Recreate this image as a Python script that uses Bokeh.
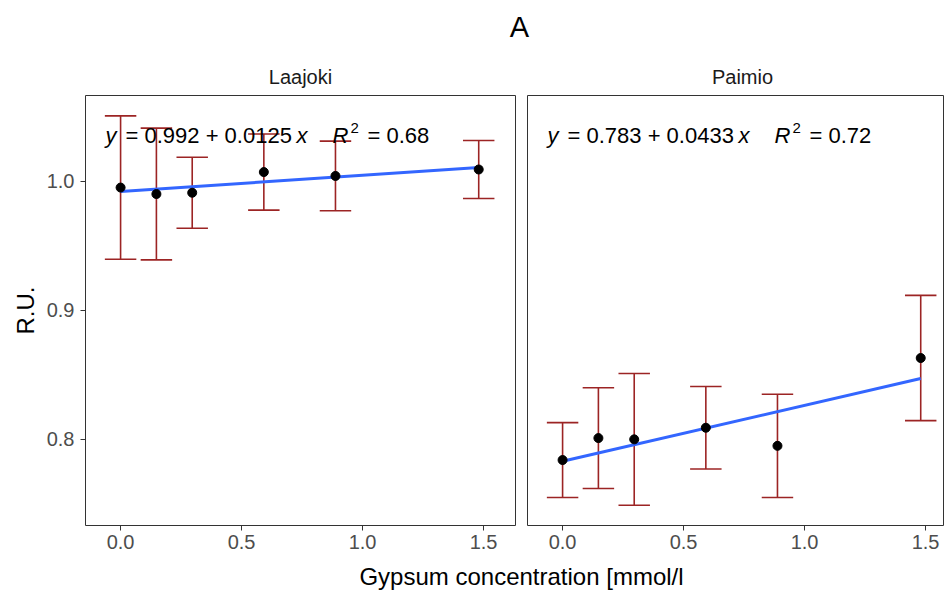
from bokeh.plotting import figure
from bokeh.layouts import column, row
from bokeh.models import Range1d, Label, FixedTicker, PrintfTickFormatter, ColumnDataSource
from bokeh.embed import file_html
from bokeh.resources import INLINE

# ---------------- data ----------------
title_text = "A"
sites = ["Laajoki", "Paimio"]
concentration = [0.0, 0.148, 0.296, 0.592, 0.888, 1.48]
laajoki_mean = [0.995, 0.990, 0.991, 1.007, 1.004, 1.009]
laajoki_sd = [0.0555, 0.051, 0.0275, 0.0295, 0.027, 0.0225]
paimio_mean = [0.784, 0.801, 0.800, 0.809, 0.795, 0.863]
paimio_sd = [0.029, 0.039, 0.051, 0.032, 0.040, 0.0485]
fit_intercept = [0.992, 0.783]
fit_slope = [0.0125, 0.0433]
fit_r2 = [0.68, 0.72]
x_ticks = [0.0, 0.5, 1.0, 1.5]
y_ticks = [0.8, 0.9, 1.0]
x_label = "Gypsum concentration [mmol/l"
y_label = "R.U."

# ---------------- layout / style ----------------
FONT = "Liberation Sans"
W, H = 944, 590
HEAD_H, FOOT_H = 90, 30
ROW_H = H - HEAD_H - FOOT_H
FRAME_TOP, FRAME_BOTTOM = 5, 35
FRAME_H = ROW_H - FRAME_TOP - FRAME_BOTTOM
LEFT_BORDER, GAP = 85, 6
PANEL_W = 430
LEFT_W = LEFT_BORDER + PANEL_W + GAP
RIGHT_W = W - LEFT_W
RIGHT_FRAME_W = RIGHT_W - GAP - 1

X_START, X_END = -0.145, 1.632
Y_START, Y_END = 0.7333, 1.0663
PX_X = PANEL_W / (X_END - X_START)
PX_Y = FRAME_H / (Y_END - Y_START)

EB_COLOR = "#9C2424"
FIT_COLOR = "#3366FF"
BORDER_COLOR = "#333333"
TICK_LABEL_COLOR = "#4D4D4D"
CAP_HALF = 0.065

y_range = Range1d(Y_START, Y_END)


def style_axis(ax, ticks):
    ax.ticker = FixedTicker(ticks=ticks)
    ax.formatter = PrintfTickFormatter(format="%.1f")
    ax.axis_line_color = None
    ax.major_tick_line_color = BORDER_COLOR
    ax.major_tick_in = 0
    ax.major_tick_out = 5
    ax.minor_tick_line_color = None
    ax.major_label_text_font = FONT
    ax.major_label_text_font_size = "20px"
    ax.major_label_text_color = TICK_LABEL_COLOR


def make_panel(idx, mean, sd, width, border_left, border_right, x_end, show_y):
    p = figure(width=width, height=ROW_H, x_range=Range1d(X_START, x_end), y_range=y_range,
               output_backend="svg", toolbar_location=None, title=None,
               min_border_left=border_left, min_border_right=border_right,
               min_border_top=FRAME_TOP, min_border_bottom=FRAME_BOTTOM,
               y_axis_location="left" if show_y else None)
    p.grid.visible = False
    p.outline_line_color = BORDER_COLOR
    p.outline_line_width = 1
    p.background_fill_color = "white"
    p.border_fill_color = "white"
    style_axis(p.xaxis[0], x_ticks)
    p.xaxis[0].major_label_standoff = 4
    if show_y:
        style_axis(p.yaxis[0], y_ticks)
        p.yaxis[0].major_label_standoff = 6
        p.yaxis[0].axis_label = y_label
        p.yaxis[0].axis_label_text_font = FONT
        p.yaxis[0].axis_label_text_font_size = "24px"
        p.yaxis[0].axis_label_text_font_style = "normal"
        p.yaxis[0].axis_label_text_color = "black"
        p.yaxis[0].axis_label_standoff = 5

    lower = [m - s for m, s in zip(mean, sd)]
    upper = [m + s for m, s in zip(mean, sd)]
    src = ColumnDataSource(dict(
        x=concentration, mean=mean, lower=lower, upper=upper,
        cl=[c - CAP_HALF for c in concentration], cr=[c + CAP_HALF for c in concentration]))
    p.segment(x0="x", y0="lower", x1="x", y1="upper", source=src, line_color=EB_COLOR, line_width=1.6)
    p.segment(x0="cl", y0="upper", x1="cr", y1="upper", source=src, line_color=EB_COLOR, line_width=1.6)
    p.segment(x0="cl", y0="lower", x1="cr", y1="lower", source=src, line_color=EB_COLOR, line_width=1.6)

    a, b, r2 = fit_intercept[idx], fit_slope[idx], fit_r2[idx]
    fx = [min(concentration), max(concentration)]
    fy = [a + b * xx for xx in fx]
    p.line(fx, fy, line_color=FIT_COLOR, line_width=3)
    p.scatter("x", "mean", source=src, marker="circle", size=9, color="black")

    # regression equation (pieces for italic/superscript)
    y_mid = Y_END - 40 / PX_Y
    y_sup = Y_END - 32 / PX_Y
    pieces = [
        ("y", 0, "italic", "22px", y_mid),
        (f"= {a:.3f} + {b:.4f}", 20, "normal", "22px", y_mid),
        ("x", 191, "italic", "22px", y_mid),
        ("R", 227, "italic", "22px", y_mid),
        ("2", 245, "normal", "15px", y_sup),
        (f"= {r2:.2f}", 262, "normal", "22px", y_mid),
    ]
    for txt, off, style, size, yy in pieces:
        p.add_layout(Label(x=X_START, y=yy, x_offset=20 + off, text=txt,
                           text_font=FONT, text_font_size=size, text_font_style=style,
                           text_color="black", text_align="left", text_baseline="middle"))
    return p


left = make_panel(0, laajoki_mean, laajoki_sd, LEFT_W, LEFT_BORDER, GAP, X_END, True)
right_end = X_START + RIGHT_FRAME_W / PX_X
right = make_panel(1, paimio_mean, paimio_sd, RIGHT_W, GAP, 1, right_end, False)

# header: title and facet strip labels
head = figure(width=W, height=HEAD_H, x_range=Range1d(0, W), y_range=Range1d(0, HEAD_H),
              output_backend="svg", toolbar_location=None, title=None,
              x_axis_location=None, y_axis_location=None, min_border=0)
head.grid.visible = False
head.outline_line_color = None
plot_left = LEFT_BORDER
plot_right = LEFT_W + GAP + PANEL_W
head.add_layout(Label(x=(plot_left + plot_right) / 2 - 2, y=HEAD_H - 26, text=title_text,
                      text_font=FONT, text_font_size="29px", text_color="black",
                      text_align="center", text_baseline="middle"))
strip_centers = [LEFT_BORDER + PANEL_W / 2, LEFT_W + GAP + PANEL_W / 2]
for name, cx in zip(sites, strip_centers):
    head.add_layout(Label(x=cx, y=HEAD_H - 76, text=name, text_font=FONT, text_font_size="20px",
                          text_color="#1A1A1A", text_align="center", text_baseline="middle"))

# footer: x-axis title spanning both panels
foot = figure(width=W, height=FOOT_H, x_range=Range1d(0, W), y_range=Range1d(0, FOOT_H),
              output_backend="svg", toolbar_location=None, title=None,
              x_axis_location=None, y_axis_location=None, min_border=0)
foot.grid.visible = False
foot.outline_line_color = None
foot.add_layout(Label(x=(plot_left + plot_right) / 2, y=FOOT_H - 16, text=x_label, text_font=FONT,
                      text_font_size="24px", text_color="black",
                      text_align="center", text_baseline="middle"))

layout = column(head, row(left, right, spacing=0), foot, spacing=0)
open("out.html", "w").write(file_html(layout, INLINE))
